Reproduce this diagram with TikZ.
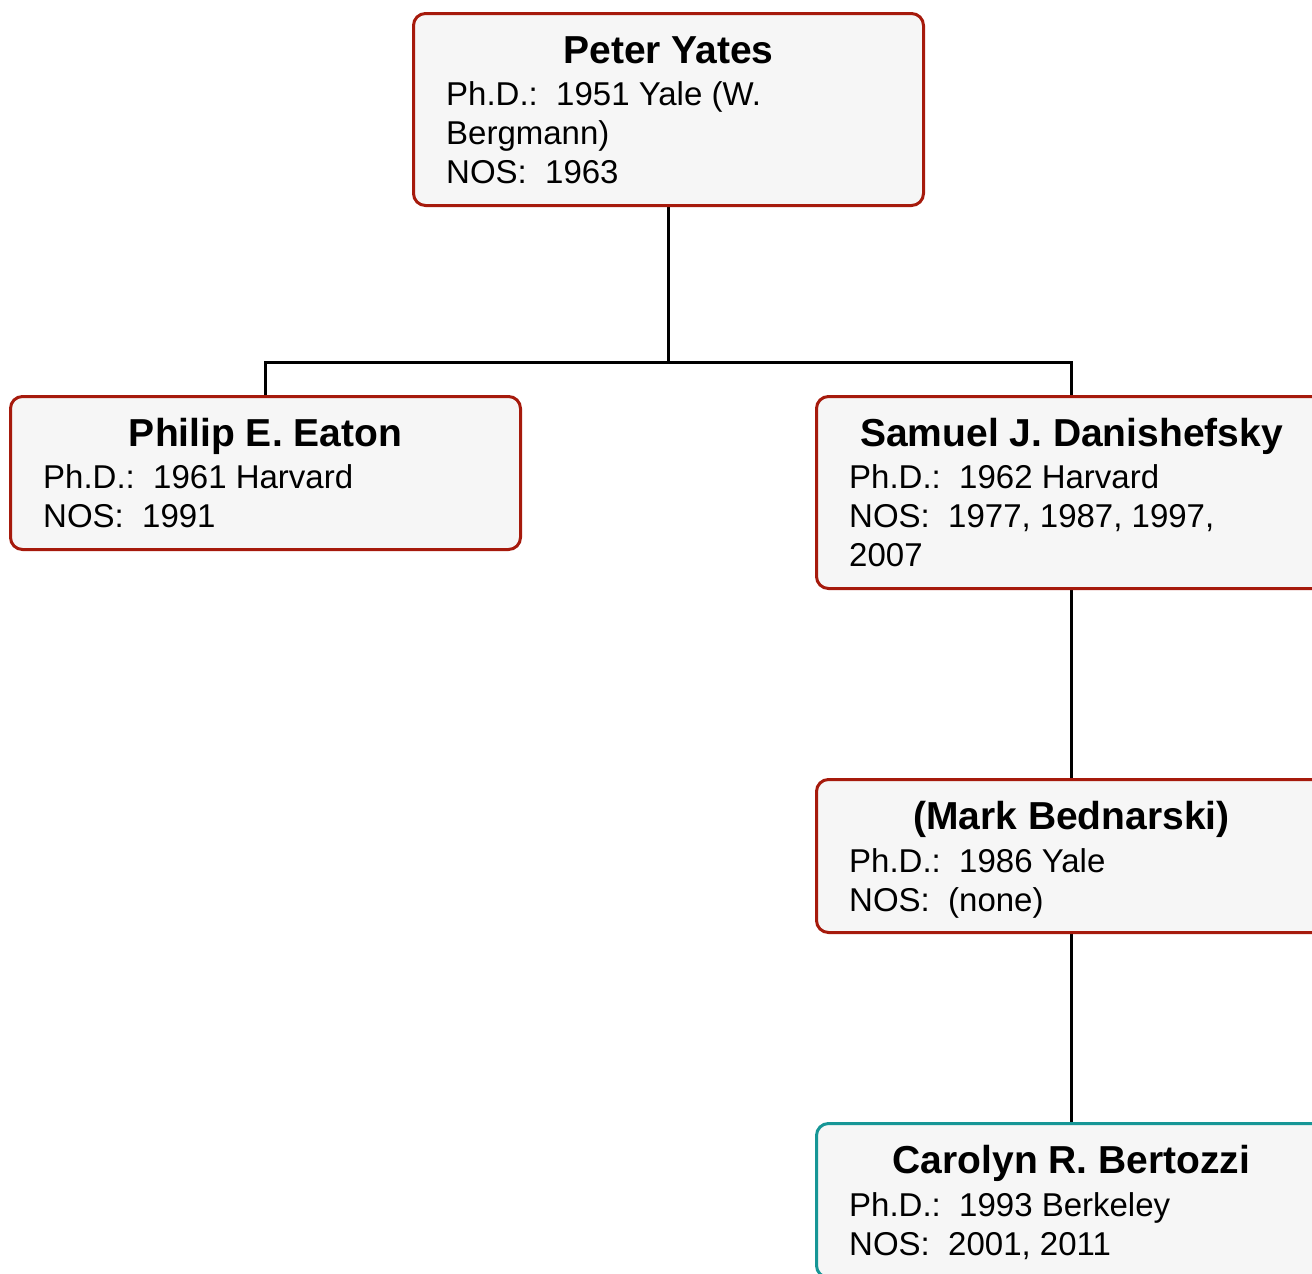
\documentclass[tikz,border=0pt]{standalone}
\usepackage{fontspec}
\setmainfont{Liberation Sans}
\usetikzlibrary{backgrounds}
\definecolor{boxred}{RGB}{166,26,12}
\definecolor{boxteal}{RGB}{22,150,150}
\definecolor{boxfill}{RGB}{246,246,246}
\begin{document}
\begin{tikzpicture}[x=1pt,y=-1pt,
  box/.style={draw=boxred, fill=boxfill, line width=3pt, rounded corners=12pt,
    minimum width=510pt, anchor=north west, inner sep=0pt},
  tealbox/.style={box, draw=boxteal},
  pname/.style={font=\fontsize{39}{46}\selectfont\bfseries, anchor=base, inner sep=0pt},
  info/.style={font=\fontsize{33}{39}\selectfont, anchor=base west, inner sep=0pt},
  conn/.style={draw=black, line width=3pt}]
\useasboundingbox (0,0) rectangle (1312,1274);
\clip (0,0) rectangle (1312,1274);

% Peter Yates
\node[box, minimum height=192pt] (yates) at (412,12) {};
\node[pname] (yatesN) at (yates.north |- 0,63) {Peter Yates};
\node[info] (yates1) at (446,105.5) {Ph.D.:\ \ 1951 Yale (W.};
\node[info] (yates2) at (446,144.5) {Bergmann)};
\node[info] (yates3) at (446,183.5) {NOS:\ \ 1963};

% Philip E. Eaton
\node[box, minimum height=153pt] (eaton) at (9,395) {};
\node[pname] (eatonN) at (eaton.north |- 0,446) {Philip E. Eaton};
\node[info] (eaton1) at (43,488.5) {Ph.D.:\ \ 1961 Harvard};
\node[info] (eaton2) at (43,527.5) {NOS:\ \ 1991};

% Samuel J. Danishefsky
\node[box, minimum height=192pt] (danish) at (815,395) {};
\node[pname] (danishN) at (danish.north |- 0,446) {Samuel J. Danishefsky};
\node[info] (danish1) at (849,488.5) {Ph.D.:\ \ 1962 Harvard};
\node[info] (danish2) at (849,527.5) {NOS:\ \ 1977, 1987, 1997,};
\node[info] (danish3) at (849,566.5) {2007};

% Mark Bednarski
\node[box, minimum height=153pt] (mark) at (815,778) {};
\node[pname] (markN) at (mark.north |- 0,829) {(Mark Bednarski)};
\node[info] (mark1) at (849,872.5) {Ph.D.:\ \ 1986 Yale};
\node[info] (mark2) at (849,911.5) {NOS:\ \ (none)};

% Carolyn R. Bertozzi
\node[tealbox, minimum height=154pt] (bert) at (815,1122) {};
\node[pname] (bertN) at (bert.north |- 0,1173) {Carolyn R. Bertozzi};
\node[info] (bert1) at (849,1216.5) {Ph.D.:\ \ 1993 Berkeley};
\node[info] (bert2) at (849,1255.5) {NOS:\ \ 2001, 2011};

\coordinate (split) at (yates.south |- 0,362);
\begin{scope}[on background layer]
\draw[conn] (yates.south) -- (split) -| (eaton.north);
\draw[conn] (split) -| (danish.north);
\draw[conn] (danish.south) -- (mark.north);
\draw[conn] (mark.south) -- (bert.north);
\end{scope}
\end{tikzpicture}
\end{document}
